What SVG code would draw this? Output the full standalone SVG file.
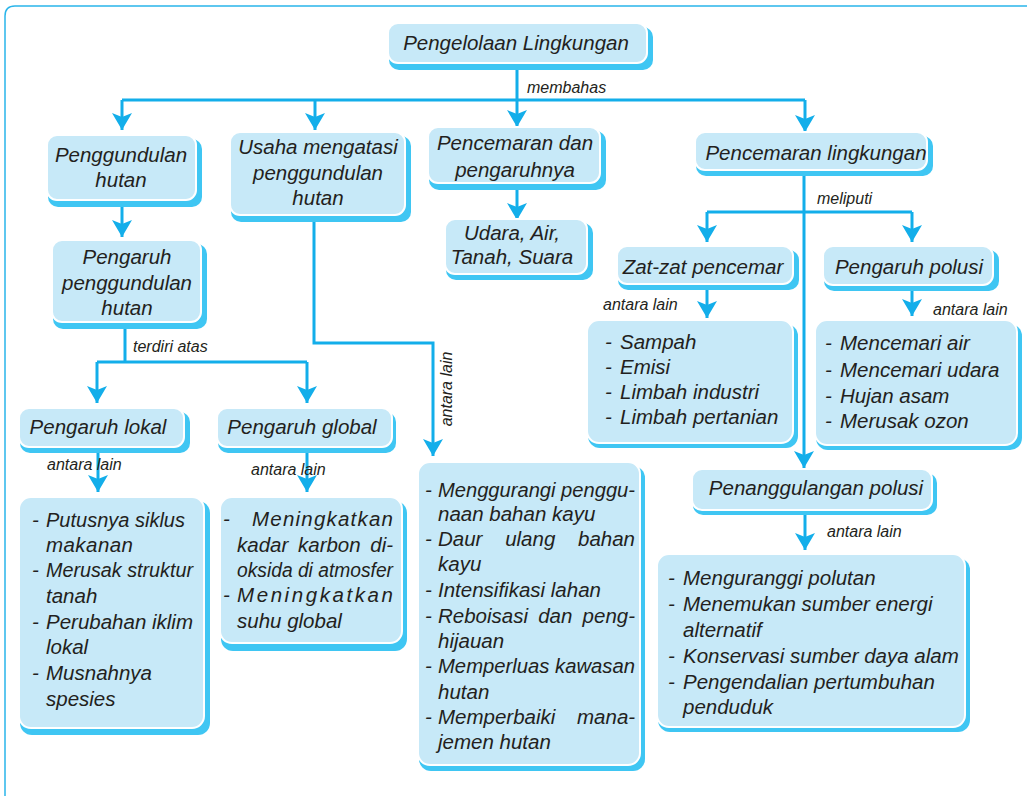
<svg xmlns="http://www.w3.org/2000/svg" width="1027" height="796" viewBox="0 0 1027 796">
<style>
.sh{fill:#3fc6f3}
.bx{fill:#c7e9f8;stroke:#ffffff;stroke-width:2}
.t{font-family:"Liberation Sans",Arial,sans-serif;font-style:italic;font-size:20.5px;fill:#231f20}
.m{text-anchor:middle}
.l{font-family:"Liberation Sans",Arial,sans-serif;font-style:italic;font-size:16px;fill:#231f20}
.c{stroke:#13aeea;stroke-width:3;fill:none}
.ca{stroke:#13aeea;stroke-width:3;fill:none;marker-end:url(#ah)}
</style>
<defs>
<marker id="ah" markerUnits="userSpaceOnUse" markerWidth="18" markerHeight="20" viewBox="0 0 18 20" refX="17" refY="10" orient="auto">
<path d="M0,0 L17,10 L0,20 L4,10 Z" fill="#13aeea"/>
</marker>
</defs>
<rect width="1027" height="796" fill="#ffffff"/>
<path d="M5,796 L5,16 Q5,6 15,6 L1027,6" fill="none" stroke="#2ab5ea" stroke-width="1.5"/>

<g id="connectors">
<path class="c" d="M517,68 V100 M122,100 H805"/>
<path class="ca" d="M122,100 V130"/>
<path class="ca" d="M315,100 V130"/>
<path class="ca" d="M517,100 V127"/>
<path class="ca" d="M805,100 V132"/>
<path class="ca" d="M122,205 V237"/>
<path class="ca" d="M517,190 V220"/>
<path class="c" d="M125,328 V362 M97,362 H307"/>
<path class="ca" d="M97,362 V403"/>
<path class="ca" d="M307,362 V403"/>
<path class="ca" d="M98,452 V492"/>
<path class="ca" d="M307,452 V492"/>
<path class="ca" d="M314,220 V343 H433 V456"/>
<path class="ca" d="M804,176 V468"/>
<path class="c" d="M707,212 H912"/>
<path class="ca" d="M707,212 V242"/>
<path class="ca" d="M912,212 V242"/>
<path class="ca" d="M707,290 V318"/>
<path class="ca" d="M912,291 V316"/>
<path class="ca" d="M805,515 V550"/>
<text class="l" x="527" y="93">membahas</text>
<text class="l" x="133" y="352">terdiri atas</text>
<text class="l" x="47" y="470">antara lain</text>
<text class="l" x="251" y="475">antara lain</text>
<text class="l" transform="translate(452,389) rotate(-90)" text-anchor="middle">antara lain</text>
<text class="l" x="817" y="204">meliputi</text>
<text class="l" x="603" y="310">antara lain</text>
<text class="l" x="933" y="315">antara lain</text>
<text class="l" x="827" y="537">antara lain</text>
</g>

<g id="n-pengelolaan">
<rect class="sh" x="389" y="27" width="264" height="43" rx="10"/>
<rect class="bx" x="388" y="23" width="259" height="40" rx="10"/>
<text class="t m" x="516" y="50">Pengelolaan Lingkungan</text>
</g>

<g id="n-penggundulan">
<rect class="sh" x="48" y="139" width="154" height="68" rx="10"/>
<rect class="bx" x="47" y="135" width="149" height="65" rx="10"/>
<text class="t m" x="121" y="162">Penggundulan</text>
<text class="t m" x="121" y="187">hutan</text>
</g>

<g id="n-usaha">
<rect class="sh" x="231" y="136" width="180" height="86" rx="10"/>
<rect class="bx" x="230" y="132" width="175" height="83" rx="10"/>
<text class="t m" x="318" y="154">Usaha mengatasi</text>
<text class="t m" x="318" y="180">penggundulan</text>
<text class="t m" x="318" y="205">hutan</text>
</g>

<g id="n-pencemaran-dan">
<rect class="sh" x="429" y="131" width="177" height="59" rx="10"/>
<rect class="bx" x="428" y="127" width="172" height="56" rx="10"/>
<text class="t m" x="515" y="150">Pencemaran dan</text>
<text class="t m" x="515" y="177">pengaruhnya</text>
</g>

<g id="n-udara">
<rect class="sh" x="446" y="223" width="147" height="57" rx="10"/>
<rect class="bx" x="445" y="219" width="142" height="55" rx="10"/>
<text class="t m" x="512" y="240">Udara, Air,</text>
<text class="t m" x="512" y="264">Tanah, Suara</text>
</g>

<g id="n-pencemaran-lingkungan">
<rect class="sh" x="696" y="136" width="237" height="40" rx="10"/>
<rect class="bx" x="695" y="132" width="232" height="38" rx="10"/>
<text class="t m" x="816" y="160">Pencemaran lingkungan</text>
</g>

<g id="n-zat">
<rect class="sh" x="618" y="250" width="181" height="40" rx="10"/>
<rect class="bx" x="617" y="246" width="176" height="38" rx="10"/>
<text class="t m" x="703" y="274">Zat-zat pencemar</text>
</g>

<g id="n-pengaruh-polusi">
<rect class="sh" x="824" y="250" width="175" height="41" rx="10"/>
<rect class="bx" x="823" y="246" width="170" height="39" rx="10"/>
<text class="t m" x="909" y="274">Pengaruh polusi</text>
</g>

<g id="n-zat-list">
<rect class="sh" x="588" y="324" width="210" height="124" rx="12"/>
<rect class="bx" x="587" y="320" width="206" height="123" rx="12"/>
<text class="t" x="605" y="349">-</text><text class="t" x="620" y="349">Sampah</text>
<text class="t" x="605" y="374">-</text><text class="t" x="620" y="374">Emisi</text>
<text class="t" x="605" y="399">-</text><text class="t" x="620" y="399">Limbah industri</text>
<text class="t" x="605" y="424">-</text><text class="t" x="620" y="424">Limbah pertanian</text>
</g>

<g id="n-polusi-list">
<rect class="sh" x="816" y="324" width="206" height="126" rx="12"/>
<rect class="bx" x="815" y="320" width="202" height="125" rx="12"/>
<text class="t" x="825" y="350">-</text><text class="t" x="840" y="350">Mencemari air</text>
<text class="t" x="825" y="377">-</text><text class="t" x="840" y="377">Mencemari udara</text>
<text class="t" x="825" y="403">-</text><text class="t" x="840" y="403">Hujan asam</text>
<text class="t" x="825" y="428">-</text><text class="t" x="840" y="428">Merusak ozon</text>
</g>

<g id="n-penanggulangan">
<rect class="sh" x="693" y="473" width="244" height="42" rx="10"/>
<rect class="bx" x="692" y="469" width="240" height="41" rx="10"/>
<text class="t m" x="816" y="495">Penanggulangan polusi</text>
</g>

<g id="n-penanggulangan-list">
<rect class="sh" x="658" y="558" width="312" height="174" rx="12"/>
<rect class="bx" x="657" y="554" width="308" height="173" rx="12"/>
<text class="t" x="668" y="585">-</text><text class="t" x="683" y="585">Menguranggi polutan</text>
<text class="t" x="668" y="611">-</text><text class="t" x="683" y="611">Menemukan sumber energi</text>
<text class="t" x="683" y="637">alternatif</text>
<text class="t" x="668" y="663">-</text><text class="t" x="683" y="663">Konservasi sumber daya alam</text>
<text class="t" x="668" y="689">-</text><text class="t" x="683" y="689">Pengendalian pertumbuhan</text>
<text class="t" x="683" y="714">penduduk</text>
</g>

<g id="n-pengaruh-penggundulan">
<rect class="sh" x="53" y="244" width="154" height="85" rx="10"/>
<rect class="bx" x="52" y="240" width="149" height="82" rx="10"/>
<text class="t m" x="127" y="264">Pengaruh</text>
<text class="t m" x="127" y="290">penggundulan</text>
<text class="t m" x="127" y="315">hutan</text>
</g>

<g id="n-lokal">
<rect class="sh" x="20" y="412" width="170" height="41" rx="10"/>
<rect class="bx" x="19" y="408" width="165" height="39" rx="10"/>
<text class="t m" x="98" y="434">Pengaruh lokal</text>
</g>

<g id="n-global">
<rect class="sh" x="218" y="412" width="178" height="41" rx="10"/>
<rect class="bx" x="217" y="408" width="175" height="39" rx="10"/>
<text class="t m" x="302" y="434">Pengaruh global</text>
</g>

<g id="n-lokal-list">
<rect class="sh" x="20" y="501" width="190" height="234" rx="12"/>
<rect class="bx" x="19" y="497" width="185" height="231" rx="12"/>
<text class="t" x="32" y="527">-</text><text class="t" x="46" y="527" textLength="139" lengthAdjust="spacingAndGlyphs">Putusnya siklus</text>
<text class="t" x="46" y="552" textLength="87" lengthAdjust="spacing">makanan</text>
<text class="t" x="32" y="577">-</text><text class="t" x="46" y="577" textLength="147" lengthAdjust="spacingAndGlyphs">Merusak struktur</text>
<text class="t" x="46" y="603">tanah</text>
<text class="t" x="32" y="629">-</text><text class="t" x="46" y="629">Perubahan iklim</text>
<text class="t" x="46" y="654">lokal</text>
<text class="t" x="32" y="680">-</text><text class="t" x="46" y="680">Musnahnya</text>
<text class="t" x="46" y="706">spesies</text>
</g>

<g id="n-global-list">
<rect class="sh" x="221" y="501" width="186" height="150" rx="12"/>
<rect class="bx" x="220" y="497" width="182" height="146" rx="12"/>
<text class="t" x="223" y="526">-</text><text class="t" x="252" y="526" textLength="141" lengthAdjust="spacing">Meningkatkan</text>
<text class="t" x="237" y="552" word-spacing="4">kadar karbon di-</text>
<text class="t" x="237" y="577" textLength="156" lengthAdjust="spacingAndGlyphs">oksida di atmosfer</text>
<text class="t" x="223" y="602">-</text><text class="t" x="237" y="602" textLength="156" lengthAdjust="spacing">Meningkatkan</text>
<text class="t" x="237" y="628">suhu global</text>
</g>

<g id="n-usaha-list">
<rect class="sh" x="419" y="466" width="226" height="305" rx="12"/>
<rect class="bx" x="418" y="462" width="222" height="303" rx="12"/>
<text class="t" x="425" y="497">-</text><text class="t" x="438" y="497" textLength="197" lengthAdjust="spacingAndGlyphs">Menggurangi penggu-</text>
<text class="t" x="438" y="521">naan bahan kayu</text>
<text class="t" x="425" y="546">-</text><text class="t" x="438" y="546" word-spacing="17">Daur ulang bahan</text>
<text class="t" x="438" y="571">kayu</text>
<text class="t" x="425" y="597">-</text><text class="t" x="438" y="597">Intensifikasi lahan</text>
<text class="t" x="425" y="623">-</text><text class="t" x="438" y="623" word-spacing="4.5">Reboisasi dan peng-</text>
<text class="t" x="438" y="648">hijauan</text>
<text class="t" x="425" y="673">-</text><text class="t" x="438" y="673" textLength="197" lengthAdjust="spacingAndGlyphs">Memperluas kawasan</text>
<text class="t" x="438" y="699">hutan</text>
<text class="t" x="425" y="724">-</text><text class="t" x="438" y="724" word-spacing="16">Memperbaiki mana-</text>
<text class="t" x="438" y="749">jemen hutan</text>
</g>
</svg>
